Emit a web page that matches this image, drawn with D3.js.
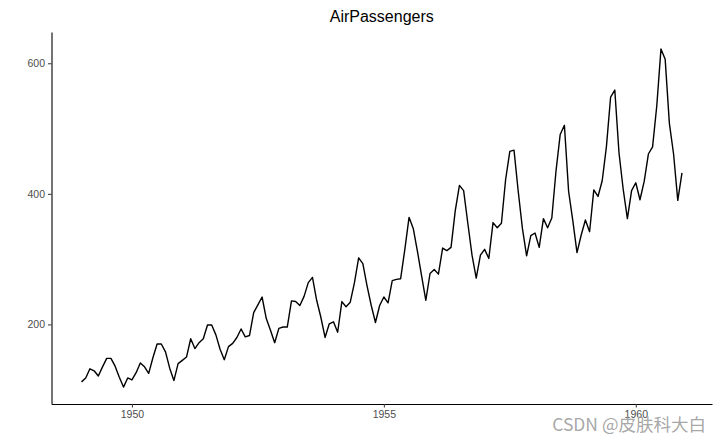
<!DOCTYPE html>
<html><head><meta charset="utf-8">
<script src="https://cdn.jsdelivr.net/npm/d3@7"></script>
<style>body{margin:0;background:#fff}svg{display:block}</style>
</head><body>
<svg id="c" width="720" height="445"></svg>
<script>
const startYear = 1949;
const passengers = [
112,118,132,129,121,135,148,148,136,119,104,118,
115,126,141,135,125,149,170,170,158,133,114,140,
145,150,178,163,172,178,199,199,184,162,146,166,
171,180,193,181,183,218,230,242,209,191,172,194,
196,196,236,235,229,243,264,272,237,211,180,201,
204,188,235,227,234,264,302,293,259,229,203,229,
242,233,267,269,270,315,364,347,312,274,237,278,
284,277,317,313,318,374,413,405,355,306,271,306,
315,301,356,348,355,422,465,467,404,347,305,336,
340,318,362,348,363,435,491,505,404,359,310,337,
360,342,406,396,420,472,548,559,463,407,362,405,
417,391,419,461,472,535,622,606,508,461,390,432];
const xTicks = [1950, 1955, 1960];
const yTicks = [200, 400, 600];
const title = "AirPassengers";
const watermark = "CSDN @皮肤科大白";

const data = passengers.map((v,i)=>({t: startYear + i/12, v}));
const svg = d3.select("#c");
const L = 51.5, R = 712, T = 32, B = 404;
const tExt = d3.extent(data, d=>d.t), vExt = d3.extent(data, d=>d.v);
const tp = (tExt[1]-tExt[0])*0.05, vp = (vExt[1]-vExt[0])*0.05;
const x = d3.scaleLinear().domain([tExt[0]-tp, tExt[1]+tp]).range([L, R]);
const y = d3.scaleLinear().domain([vExt[0]-vp, vExt[1]+vp]).range([B, T]);

svg.append("path").datum(data)
  .attr("fill","none").attr("stroke","#000").attr("stroke-width",1.4)
  .attr("stroke-linejoin","round")
  .attr("d", d3.line().x(d=>x(d.t)).y(d=>y(d.v)));

const xa = svg.append("g").attr("transform",`translate(0,${B})`)
  .call(d3.axisBottom(x).tickValues(xTicks).tickFormat(d3.format("d")).tickSize(3.5).tickSizeOuter(0).tickPadding(3));
const ya = svg.append("g").attr("transform",`translate(${L},0)`)
  .call(d3.axisLeft(y).tickValues(yTicks).tickSize(3.5).tickSizeOuter(0).tickPadding(3));
[xa, ya].forEach(a=>{
  a.select(".domain").attr("stroke","#000").attr("stroke-width",1.1);
  a.selectAll(".tick line").attr("stroke","#333").attr("stroke-width",1);
  a.selectAll("text").attr("fill","#4d4d4d").style("font-family","Liberation Sans, Arial, sans-serif").style("font-size","10.5px");
});

svg.append("text").attr("x", (L+R)/2).attr("y", 22).attr("text-anchor","middle")
  .style("font-family","Liberation Sans, Arial, sans-serif").style("font-size","16px").attr("fill","#000").text(title);

svg.append("text").attr("x", 706).attr("y", 431).attr("text-anchor","end")
  .style("font-family","Noto Sans CJK SC, sans-serif").style("font-size","17.5px")
  .attr("fill","#9c9c9c").attr("fill-opacity",0.9)
  .text(watermark);
</script>
</body></html>
